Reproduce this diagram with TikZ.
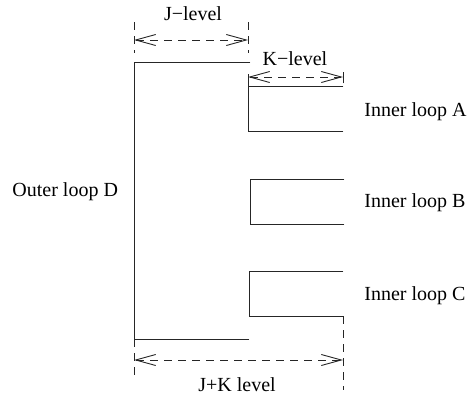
\documentclass[tikz,border=0pt]{standalone}
\usepackage{fontspec}
\setmainfont{Liberation Serif}
\usetikzlibrary{arrows.meta}
\begin{document}
\begin{tikzpicture}[x=1pt,y=-1pt, line width=0.9pt,
  wire/.style={draw=black!85, line cap=rect},
  guide/.style={draw=black!85, dash pattern=on 8pt off 6pt},
  dim/.style={draw=black!85, dash pattern=on 8pt off 6pt,
    {Straight Barb[length=20pt,width=11pt,line cap=butt,line join=miter]}-{Straight Barb[length=20pt,width=11pt,line cap=butt,line join=miter]}},
  lbl/.style={font=\fontsize{20}{24}\selectfont, inner sep=0pt}]
\useasboundingbox (0,0) rectangle (472,397);
% outer loop corners
\coordinate (oTL) at (134,62);
\coordinate (oTR) at (250,62);
\coordinate (oBL) at (134,339);
\coordinate (oBR) at (249,339);
% inner loop A
\coordinate (aTR) at (343,86);
\coordinate (aTL) at (248,86);
\coordinate (aTk) at (248,74);
\coordinate (aBL) at (248,131);
\coordinate (aBR) at (343,131);
% inner loop B
\coordinate (bTR) at (344,179);
\coordinate (bTL) at (250,179);
\coordinate (bBL) at (250,224);
\coordinate (bBR) at (344,224);
% inner loop C
\coordinate (cTR) at (343,271);
\coordinate (cTL) at (249,271);
\coordinate (cBL) at (249,316);
\coordinate (cBR) at (343,316);
% dimension points
\coordinate (j1t) at (134,22); \coordinate (j1b) at (134,53);
\coordinate (j2t) at (248,22); \coordinate (j2b) at (248,53);
\coordinate (jL) at (134,40);  \coordinate (jR) at (248,40);
\coordinate (kL) at (248,77);  \coordinate (kR) at (343,77);
\coordinate (k2t) at (343,72); \coordinate (k2b) at (343,83);
\coordinate (sLb) at (134,376);
\coordinate (sRb) at (343,390);
\coordinate (sL) at (134,360); \coordinate (sR) at (343,360);

% loops
\draw[wire] (oTR) -- (oTL) -- (oBL) -- (oBR);
\draw[wire] (aTR) -- (aTL);
\draw[wire] (aTk) -- (aBL) -- (aBR);
\draw[wire] (bTR) -- (bTL) -- (bBL) -- (bBR);
\draw[wire] (cTR) -- (cTL) -- (cBL) -- (cBR);

% J-level
\draw[guide] (j1t) -- (j1b);
\draw[guide] (j2t) -- (j2b);
\draw[dim] (jL) -- (jR);
% K-level
\draw[dim] (kL) -- (kR);
\draw[wire] (k2t) -- (k2b);
% J+K level
\draw[guide] (oBL) -- (sLb);
\draw[guide] (cBR) -- (sRb);
\draw[dim] (sL) -- (sR);

% labels
\node[lbl, anchor=base] (jlab) at (193,20) {J−level};
\node[lbl, anchor=base] (klab) at (295,65) {K−level};
\node[lbl, anchor=base] (jklab) at (237,391) {J+K level};
\node[lbl, anchor=base west] (dlab) at (12,196) {Outer loop D};
\node[lbl, anchor=base west] (alab) at (364,116) {Inner loop A};
\node[lbl, anchor=base west] (blab) at (364,207) {Inner loop B};
\node[lbl, anchor=base west] (clab) at (364,300) {Inner loop C};
\end{tikzpicture}
\end{document}
